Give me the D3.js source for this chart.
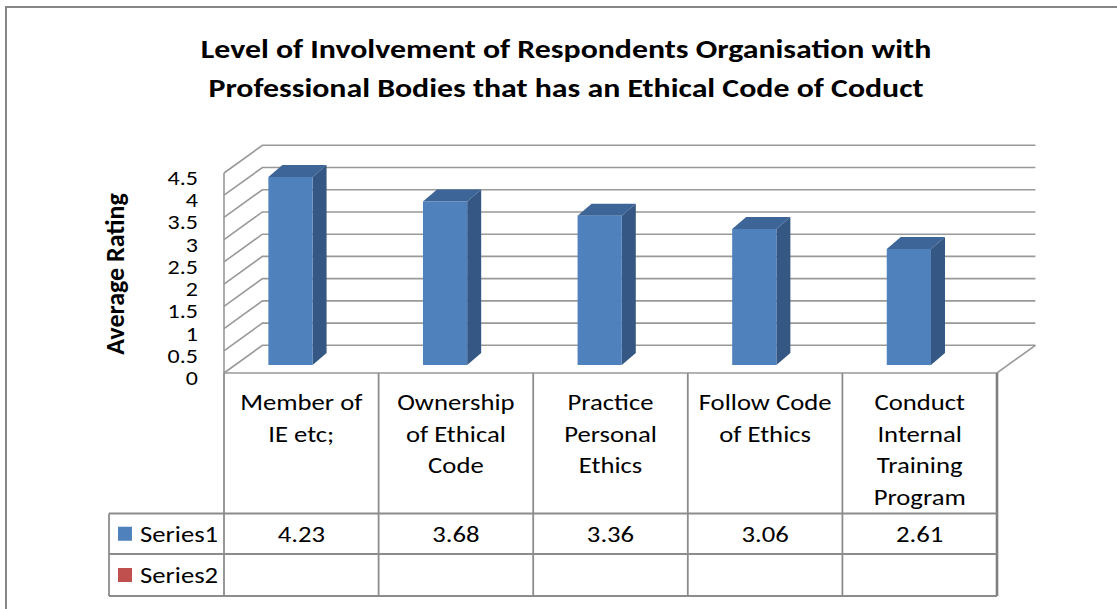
<!DOCTYPE html>
<html><head><meta charset="utf-8">
<script src="https://cdn.jsdelivr.net/npm/d3@7"></script>
<style>
html,body{margin:0;padding:0;background:#fff;}
svg text{font-family:Carlito,Calibri,Lato,"Open Sans",sans-serif;fill:#000;}
</style></head>
<body>
<svg id="chart" width="1117" height="609"></svg>
<script>
const titleLines = ["Level of Involvement of Respondents Organisation with", "Professional Bodies that has an Ethical Code of Coduct"];
const yAxisTitle = "Average Rating";
const categories = ["Member of\nIE etc;", "Ownership\nof Ethical\nCode", "Practice\nPersonal\nEthics", "Follow Code\nof Ethics", "Conduct\nInternal\nTraining\nProgram"];
const seriesNames = ["Series1", "Series2"];
const series1 = [4.23, 3.68, 3.36, 3.06, 2.61];
const series2 = [null, null, null, null, null];
const yTicks = [0, 0.5, 1, 1.5, 2, 2.5, 3, 3.5, 4, 4.5];
const seriesColors = ["#4f81bd", "#c0504d"];

const svg = d3.select("#chart");
const gridColor = "#999999";
const lineColor = "#8c8c8c";
const SX = 1.16; // horizontal stretch of the original rendering

// outer border
svg.append("rect").attr("x", 6).attr("y", 7).attr("width", 1300).attr("height", 800)
  .attr("fill", "none").attr("stroke", "#868686").attr("stroke-width", 2);

// title
svg.append("g").selectAll("text").data(titleLines).join("text")
  .attr("transform", (d, i) => `translate(566,${58 + i * 39}) scale(1.18,1)`)
  .attr("text-anchor", "middle").attr("font-size", 27).attr("font-weight", "bold")
  .text(d => d);

// 3D geometry
const x0 = 224, x1 = 997;
const DX = 38.4, DY = -27.7;
const x = d3.scaleBand().domain(categories).range([x0, x1]).padding(0);
const yFront = d3.scaleLinear().domain([0, 4.5]).range([373, 173]);
const barBase = 365;
const yBar = d3.scaleLinear().domain([0, 4.5]).range([barBase, barBase - (yFront(0) - yFront(4.5))]);

// walls / gridlines
const grid = svg.append("g").attr("fill", "none").attr("stroke", gridColor).attr("stroke-width", 1.6);
grid.selectAll("path.g").data(yTicks).join("path").attr("class", "g")
  .attr("d", v => `M${x0},${yFront(v)} L${x0 + DX},${yFront(v) + DY} L${x1 + DX},${yFront(v) + DY}`);
grid.append("path").attr("d", `M${x0},${yFront(0)} L${x1},${yFront(0)} L${x1 + DX},${yFront(0) + DY}`);
grid.append("line").attr("x1", x0).attr("x2", x0).attr("y1", yFront(4.5)).attr("y2", yFront(0));

// tick labels
svg.append("g").selectAll("text").data(yTicks).join("text")
  .attr("transform", v => `translate(198,${yFront(v) + 5}) scale(1.2,1)`).attr("dy", "0.35em")
  .attr("text-anchor", "end").attr("font-size", 20)
  .text(v => String(v));

// axis title
svg.append("text").attr("transform", "translate(124,274) rotate(-90)")
  .attr("text-anchor", "middle").attr("font-size", 26).attr("font-weight", "bold")
  .text(yAxisTitle);

// bars
const bw = x.bandwidth();
const bOff = bw * 0.287, bW = bw * 0.286;
const bdx = 14, bdy = -12;
const bars = svg.append("g").selectAll("g").data(series1.map((v, i) => ({c: categories[i], v}))).join("g");
bars.append("path").attr("fill", "#345784")
  .attr("d", d => { const r = x(d.c) + bOff + bW, t = yBar(d.v), b = yBar(0);
    return `M${r},${t} L${r + bdx},${t + bdy} L${r + bdx},${b + bdy} L${r},${b}Z`; });
bars.append("path").attr("fill", "#3d6598")
  .attr("d", d => { const l = x(d.c) + bOff, r = l + bW, t = yBar(d.v);
    return `M${l},${t} L${l + bdx},${t + bdy} L${r + bdx},${t + bdy} L${r},${t}Z`; });
bars.append("rect").attr("fill", seriesColors[0])
  .attr("x", d => x(d.c) + bOff).attr("width", bW)
  .attr("y", d => yBar(d.v)).attr("height", d => yBar(0) - yBar(d.v));

// data table
const rowTop = 373, row1 = 513.5, row2 = 554, rowEnd = 596, legL = 109;
const tbl = svg.append("g").attr("stroke", lineColor).attr("stroke-width", 1.8);
const bounds = categories.map(c => x(c)).concat([x1]);
tbl.selectAll("line.v").data(bounds).join("line").attr("class", "v")
  .attr("x1", d => d).attr("x2", d => d).attr("y1", rowTop).attr("y2", rowEnd)
  .attr("stroke-width", (d, i) => i === bounds.length - 1 ? 2.6 : 1.8)
  .attr("stroke", (d, i) => i === bounds.length - 1 ? "#808080" : lineColor);
tbl.append("line").attr("x1", legL).attr("x2", legL).attr("y1", row1).attr("y2", rowEnd);
tbl.selectAll("line.h").data([row1, row2, rowEnd]).join("line").attr("class", "h")
  .attr("x1", legL).attr("x2", x1).attr("y1", d => d).attr("y2", d => d);

// category labels
const catG = svg.append("g").selectAll("text").data(categories).join("text")
  .attr("transform", c => `translate(${x(c) + bw / 2},0) scale(${SX},1)`)
  .attr("text-anchor", "middle").attr("font-size", 23);
catG.selectAll("tspan").data(c => c.split("\n")).join("tspan")
  .attr("x", 0).attr("y", (d, i) => 402 + i * 31.7).attr("dy", "0.35em")
  .text(d => d);

// values
svg.append("g").selectAll("text").data(series1.map((v, i) => ({c: categories[i], v}))).join("text")
  .attr("transform", d => `translate(${x(d.c) + bw / 2},${(row1 + row2) / 2}) scale(${SX},1)`).attr("dy", "0.35em")
  .attr("text-anchor", "middle").attr("font-size", 23).text(d => d.v.toFixed(2));

// legend cells
const legRows = [(row1 + row2) / 2, (row2 + rowEnd) / 2];
const leg = svg.append("g").selectAll("g").data(seriesNames).join("g");
leg.append("rect").attr("x", 118).attr("y", (d, i) => legRows[i] - 7).attr("width", 14).attr("height", 14)
  .attr("fill", (d, i) => seriesColors[i]);
leg.append("text").attr("transform", (d, i) => `translate(140,${legRows[i]}) scale(${SX},1)`).attr("dy", "0.35em")
  .attr("font-size", 23).text(d => d);
</script>
</body></html>
